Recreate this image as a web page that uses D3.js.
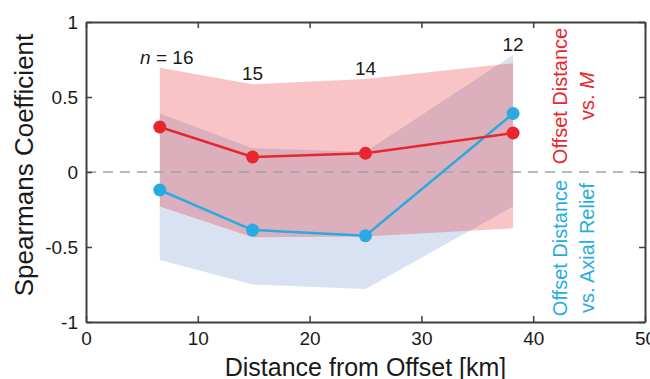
<!DOCTYPE html>
<html>
<head>
<meta charset="utf-8">
<script src="https://cdn.jsdelivr.net/npm/d3@7"></script>
<style>
  body { margin: 0; background: #fff; }
  svg { font-family: "Liberation Sans", Arial, Helvetica, sans-serif; }
</style>
</head>
<body>
<svg id="svg" width="650" height="379"></svg>
<script>
// data
var distance = [6.6, 14.9, 25.0, 38.2];
var nCount = [16, 15, 14, 12];

// Offset distance vs. M (red)
var magRho = [0.30, 0.10, 0.125, 0.26];
var magUpper = [0.695, 0.585, 0.62, 0.725];
var magLower = [-0.23, -0.435, -0.43, -0.375];

// Offset distance vs. axial relief (blue)
var reliefRho = [-0.12, -0.387, -0.425, 0.39];
var reliefUpper = [0.39, 0.158, 0.135, 0.78];
var reliefLower = [-0.587, -0.75, -0.78, -0.23];

var xTicks = [0, 10, 20, 30, 40, 50];
var yTicks = [-1, -0.5, 0, 0.5, 1];

var red = "#e8262d",
    blue = "#29abe2",
    axisColor = "#404040";

var svg = d3.select("#svg");

var margin = {left: 86, right: 5, top: 22, bottom: 57},
    width = 650 - margin.left - margin.right,
    height = 379 - margin.top - margin.bottom;

var x = d3.scaleLinear().domain([0, 50]).range([0, width]);
var y = d3.scaleLinear().domain([-1, 1]).range([height, 0]);

var g = svg.append("g")
    .attr("transform", "translate(" + margin.left + "," + margin.top + ")");

// build point rows for the area / line generators
function rows(mid, lo, hi) {
  return distance.map(function(d, i) {
    return {x: d, y: mid[i], lo: lo[i], hi: hi[i]};
  });
}
var magData = rows(magRho, magLower, magUpper);
var reliefData = rows(reliefRho, reliefLower, reliefUpper);

var area = d3.area()
    .x(function(d) { return x(d.x); })
    .y0(function(d) { return y(d.lo); })
    .y1(function(d) { return y(d.hi); });

var line = d3.line()
    .x(function(d) { return x(d.x); })
    .y(function(d) { return y(d.y); });

// confidence bands
g.append("path")
    .datum(reliefData)
    .attr("d", area)
    .attr("fill", "#d8e2f2");

g.append("path")
    .datum(magData)
    .attr("d", area)
    .attr("fill", red)
    .attr("fill-opacity", 0.27);

// zero line
g.append("line")
    .attr("x1", 0).attr("x2", width)
    .attr("y1", y(0)).attr("y2", y(0))
    .attr("stroke", "#a3a3a3")
    .attr("stroke-width", 1.5)
    .attr("stroke-dasharray", "10,7");

// series lines and markers
[[reliefData, blue], [magData, red]].forEach(function(s) {
  g.append("path")
      .datum(s[0])
      .attr("d", line)
      .attr("fill", "none")
      .attr("stroke", s[1])
      .attr("stroke-width", 2.5);

  g.selectAll(null)
      .data(s[0])
      .enter().append("circle")
        .attr("cx", function(d) { return x(d.x); })
        .attr("cy", function(d) { return y(d.y); })
        .attr("r", 6.5)
        .attr("fill", s[1]);
});

// sample size labels, just above the highest band edge
var nLabels = g.selectAll(".nlab")
    .data(distance)
    .enter().append("text")
      .attr("class", "nlab")
      .attr("x", function(d, i) { return x(d) + (i == 0 ? 7 : 0); })
      .attr("y", function(d, i) { return y(Math.max(magUpper[i], reliefUpper[i])) - 4; })
      .attr("text-anchor", "middle")
      .attr("font-size", 19)
      .attr("fill", "#1a1a1a");

nLabels.each(function(d, i) {
  var t = d3.select(this);
  if (i == 0) {
    t.append("tspan").attr("font-style", "italic").text("n");
    t.append("tspan").text(" = " + nCount[i]);
  } else {
    t.text(nCount[i]);
  }
});

// axes (box with inward ticks)
var fmt = function(d) { return d3.format("")(d); };

var xAxis = g.append("g")
    .attr("transform", "translate(0," + height + ")")
    .call(d3.axisBottom(x).tickValues(xTicks).tickFormat(fmt).tickSizeInner(-6).tickSizeOuter(0).tickPadding(10));
var xTop = g.append("g")
    .call(d3.axisTop(x).tickValues(xTicks).tickFormat("").tickSizeInner(-6).tickSizeOuter(0));
var yAxis = g.append("g")
    .call(d3.axisLeft(y).tickValues(yTicks).tickFormat(fmt).tickSizeInner(-6).tickSizeOuter(0).tickPadding(8));
var yRight = g.append("g")
    .attr("transform", "translate(" + width + ",0)")
    .call(d3.axisRight(y).tickValues(yTicks).tickFormat("").tickSizeInner(-6).tickSizeOuter(0));

[xAxis, xTop, yAxis, yRight].forEach(function(a) {
  a.select(".domain").attr("stroke", axisColor).attr("stroke-width", 2);
  a.selectAll(".tick line").attr("stroke", axisColor).attr("stroke-width", 1.5);
  a.selectAll(".tick text")
      .attr("font-family", "Liberation Sans, Arial, sans-serif")
      .attr("font-size", 19)
      .attr("fill", "#1a1a1a");
});
yAxis.selectAll(".tick text").text(function(d) { return d3.format("")(d).replace("−", "-"); });
xAxis.selectAll(".tick text").attr("dy", "0.71em");

// axis titles
svg.append("text")
    .attr("x", margin.left + width / 2)
    .attr("y", 376)
    .attr("text-anchor", "middle")
    .attr("font-size", 25)
    .attr("fill", "#1a1a1a")
    .text("Distance from Offset [km]");

svg.append("text")
    .attr("transform", "translate(33," + (margin.top + height / 2 - 7) + ") rotate(-90)")
    .attr("text-anchor", "middle")
    .attr("font-size", 26)
    .attr("fill", "#1a1a1a")
    .text("Spearmans Coefficient");

// series labels on the right
var magLab = svg.append("text")
    .attr("transform", "translate(567,96) rotate(-90)")
    .attr("text-anchor", "middle")
    .attr("font-size", 20)
    .attr("fill", red);
magLab.append("tspan").attr("x", 0).attr("dy", 0).text("Offset Distance");
var vsM = magLab.append("tspan").attr("x", 0).attr("dy", 27);
vsM.append("tspan").text("vs. ");
vsM.append("tspan").attr("font-style", "italic").text("M");

var reliefLab = svg.append("text")
    .attr("transform", "translate(567,248) rotate(-90)")
    .attr("text-anchor", "middle")
    .attr("font-size", 20)
    .attr("fill", blue);
reliefLab.append("tspan").attr("x", 0).attr("dy", 0).text("Offset Distance");
reliefLab.append("tspan").attr("x", 0).attr("dy", 27).text("vs. Axial Relief");
</script>
</body>
</html>
